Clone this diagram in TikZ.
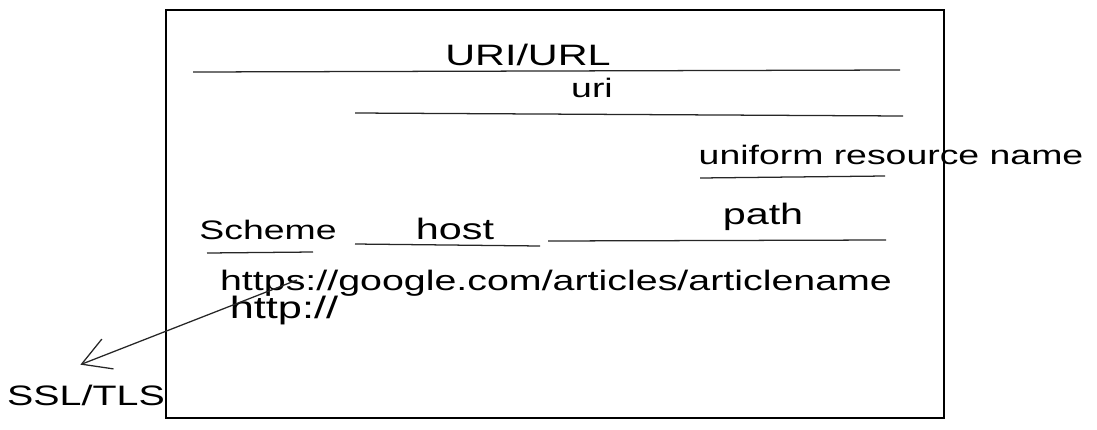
\documentclass[tikz,border=0pt]{standalone}
\usepackage{fontspec}
\setmainfont{Liberation Sans}[FakeStretch=1.4]
\usetikzlibrary{arrows.meta}
\begin{document}
\begin{tikzpicture}[x=0.025cm, y=-0.025cm, nodes={inner sep=0pt, anchor=base, font=\fontsize{20}{24}\selectfont}, stroke/.style={line width=0.9pt, black!85}]
        \useasboundingbox (0,0) rectangle (1097,429);
        \draw[line width=1.1pt] (166,10) rectangle (944,418);
        \node[font=\fontsize{21}{25}\selectfont] (url) at (528,65) {URI/URL};
        \draw[stroke] (193,72) -- (900,70);
        \node[font=\fontsize{19}{23}\selectfont] (uri) at (592,97) {uri};
        \draw[stroke] (355,113) -- (903,116);
        \node[font=\fontsize{19}{23}\selectfont] (urn) at (891,164) {uniform resource name};
        \draw[stroke] (700,178) -- (885,176);
        \node[font=\fontsize{19}{23}\selectfont] (scheme) at (268,239) {Scheme};
        \draw[stroke] (207,253) -- (313,252);
        \node[font=\fontsize{21}{25}\selectfont] (host) at (455,239) {host};
        \draw[stroke] (355,244) -- (540,246);
        \node[font=\fontsize{21}{25}\selectfont] (path) at (763,224) {path};
        \draw[stroke] (548,241) -- (886,240);
        \node (https) at (556,290) {https://google.com/articles/articlename};
        \node[font=\fontsize{22}{26}\selectfont] (http) at (284,318) {http://};
        \node (ssl) at (86,405) {SSL/TLS};
        \coordinate (tlsfrom) at (297,280);
        \draw[stroke, -{Straight Barb[length=7mm, width=8mm]}] (tlsfrom) -- ([xshift=-4pt, yshift=14pt]ssl.north);
    \end{tikzpicture}
\end{document}
